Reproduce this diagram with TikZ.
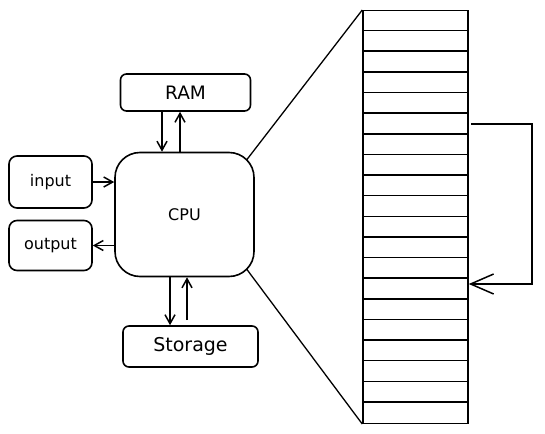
\documentclass[tikz,border=0pt]{standalone}
\usepackage{fontspec}
\setmainfont{DejaVu Sans}
\usetikzlibrary{arrows.meta,calc}
\begin{document}
\begin{tikzpicture}[x=1pt,y=-1pt,
  box/.style={draw,line width=1.6pt,rounded corners=6pt,inner sep=0pt},
  conn/.style={line width=1.5pt,-{Straight Barb[length=9pt,width=10pt,line width=1.5pt]}},
  funnel/.style={line width=1.3pt},
  cell/.style={line width=1.5pt}]
\useasboundingbox (0,0) rectangle (545,433);
% boxes
\node[box,minimum width=130pt,minimum height=37pt] (ram) at (185.5,92.5) {\fontsize{18.5}{20}\selectfont RAM};
\node[box,minimum width=139pt,minimum height=124pt,rounded corners=25pt] (cpu) at (184.5,214.5) {\fontsize{16}{18}\selectfont CPU};
\node[box,minimum width=83pt,minimum height=52pt,rounded corners=8pt] (in) at (50.5,182) {\fontsize{16}{18}\selectfont input};
\node[box,minimum width=83pt,minimum height=50pt,rounded corners=8pt] (out) at (50.5,245.5) {\fontsize{16}{18}\selectfont output};
\node[box,minimum width=135pt,minimum height=41pt] (sto) at (190.5,346.5) {\fontsize{19}{21}\selectfont Storage};
% connectors
\coordinate (rd) at (162,0);
\coordinate (ru) at (180,0);
\coordinate (sd) at (170,0);
\coordinate (su) at (187,0);
\draw[conn] (ram.south -| rd) -- (cpu.north -| rd);
\draw[conn] (cpu.north -| ru) -- (ram.south -| ru);
\draw[conn] (in.east) -- (cpu.west |- in.east);
\draw[conn] (cpu.west |- out.east) -- (out.east);
\draw[conn] (cpu.south -| sd) -- (sto.north -| sd);
\draw[conn] ($(sto.north -| su)+(0,-5)$) -- (cpu.south -| su);
% memory stack
\node[draw,cell,minimum width=105pt,minimum height=412.5pt,inner sep=0pt] (stack) at (415.5,217) {};
\foreach \i in {1,...,19}{
  \draw[cell] ($(stack.north west)+(0,\i*20.625)$) -- ($(stack.north east)+(0,\i*20.625)$);
}
% funnel
\draw[funnel] ($(cpu.north east)+(-8,8)$) -- (stack.north west);
\draw[funnel] ($(cpu.south east)+(-8,-8)$) -- (stack.south west);
% feedback loop
\coordinate (fbs) at (471,124);
\coordinate (fbe) at (532,284);
\draw[line width=1.5pt,-{Straight Barb[length=23pt,width=20pt,line width=1.5pt]}]
  (fbs) -- (fbs -| fbe) -- (fbe) -- (fbe -| stack.east);
\end{tikzpicture}
\end{document}
